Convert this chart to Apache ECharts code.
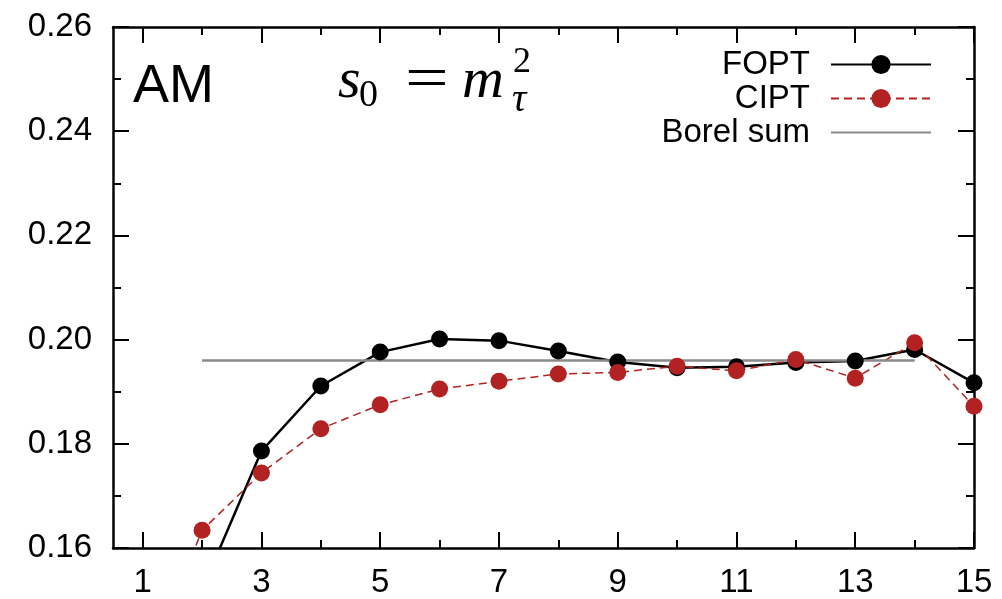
<!DOCTYPE html>
<html>
<head>
<meta charset="utf-8">
<script src="https://cdn.jsdelivr.net/npm/echarts@6/dist/echarts.min.js"></script>
<style>
html,body{margin:0;padding:0;background:#fff;}
#chart{width:1002px;height:599px;}
</style>
</head>
<body>
<div id="chart"></div>
<script>
// ---- data ----
const xValues = [1, 2, 3, 4, 5, 6, 7, 8, 9, 10, 11, 12, 13, 14, 15];
const foptValues = [null, 0.152, 0.1786, 0.1911, 0.1976, 0.2001, 0.1998, 0.1978, 0.1957, 0.1946, 0.1948, 0.1956, 0.1959, 0.1981, 0.1917];
const ciptValues = [0.135, 0.1634, 0.1744, 0.1829, 0.1875, 0.1905, 0.1920, 0.1934, 0.1937, 0.1949, 0.1940, 0.1962, 0.1926, 0.1994, 0.1872];
const borelX = [2, 14];
const borelY = [0.196, 0.196];
const xMajorTicks = [1, 3, 5, 7, 9, 11, 13, 15];
const xMinorTicks = [2, 4, 6, 8, 10, 12, 14];
const seriesNames = ['FOPT', 'CIPT', 'Borel sum'];

const pairs = (xs, ys) => xs.map((x, i) => [x, ys[i]]);

const FONT = 'Liberation Sans, Arial, Helvetica, sans-serif';
const SERIF = 'Liberation Serif, DejaVu Serif, serif';
const axisLineStyle = { color: '#000', width: 2.5 };

function xAxisDef(position, ticks, len, showLine, showLabel) {
  return {
    type: 'value', position: position, min: 0.5, max: 15,
    axisLine: { show: showLine, onZero: false, lineStyle: axisLineStyle },
    axisTick: { show: true, inside: true, length: len, customValues: ticks, lineStyle: { color: '#000', width: 2 } },
    axisLabel: showLabel ? { show: true, customValues: xMajorTicks, color: '#000', fontSize: 33, fontFamily: FONT, margin: 18 } : { show: false },
    splitLine: { show: false }
  };
}
function yAxisDef(position, showLabel) {
  return {
    type: 'value', position: position, min: 0.16, max: 0.26, interval: 0.02,
    axisLine: { show: true, onZero: false, lineStyle: axisLineStyle },
    axisTick: { show: true, inside: true, length: 16, lineStyle: { color: '#000', width: 2 } },
    minorTick: { show: true, splitNumber: 2, length: 8, lineStyle: { color: '#000', width: 2 } },
    axisLabel: showLabel ? { show: true, color: '#000', fontSize: 33, fontFamily: FONT, margin: 21, formatter: v => v.toFixed(2) } : { show: false },
    splitLine: { show: false }, minorSplitLine: { show: false }
  };
}

const chart = echarts.init(document.getElementById('chart'), null, { renderer: 'canvas' });
chart.setOption({
  animation: false,
  backgroundColor: '#fff',
  grid: { left: 113, top: 27, right: 28, bottom: 51, containLabel: false },
  xAxis: [
    xAxisDef('bottom', xMajorTicks, 16, true, true),
    xAxisDef('bottom', xMinorTicks, 8, false, false),
    xAxisDef('top', xMajorTicks, 16, true, false),
    xAxisDef('top', xMinorTicks, 8, false, false)
  ],
  yAxis: [yAxisDef('left', true), yAxisDef('right', false)],
  legend: {
    orient: 'vertical', right: 65, top: 43, align: 'right',
    itemWidth: 100, itemHeight: 24, itemGap: 1,
    data: [
      { name: seriesNames[0] },
      { name: seriesNames[1] },
      { name: seriesNames[2], itemStyle: { opacity: 0 } }
    ],
    textStyle: { fontSize: 33, fontFamily: FONT, color: '#000', padding: [0, 16, 0, 0] }
  },
  series: [
    {
      name: seriesNames[0], type: 'line', xAxisIndex: 0, yAxisIndex: 0,
      data: pairs(xValues, foptValues), clip: true,
      symbol: 'circle', symbolSize: 17,
      lineStyle: { color: '#000', width: 2.5 }, itemStyle: { color: '#000' }
    },
    {
      name: seriesNames[1], type: 'line', xAxisIndex: 0, yAxisIndex: 0,
      data: pairs(xValues, ciptValues), clip: true,
      symbol: 'circle', symbolSize: 17,
      lineStyle: { color: '#b22222', width: 1.5, type: [8, 5] }, itemStyle: { color: '#b22222' }
    },
    {
      name: seriesNames[2], type: 'line', xAxisIndex: 0, yAxisIndex: 0,
      data: pairs(borelX, borelY), clip: true,
      symbol: 'none',
      lineStyle: { color: '#8a8a8a', width: 2.5 }, itemStyle: { color: '#8a8a8a' }
    }
  ],
  graphic: [
    { type: 'text', left: 133, top: 60, style: { text: 'AM', font: '54px ' + FONT, fill: '#000' } },
    { type: 'text', x: 338, y: 82, style: { text: 's', font: 'italic 58px ' + SERIF, fill: '#000', verticalAlign: 'middle', align: 'left' } },
    { type: 'text', x: 359, y: 96, style: { text: '0', font: '38px ' + SERIF, fill: '#000', verticalAlign: 'middle', align: 'left' } },
    { type: 'text', x: 405, y: 82, scaleX: 1.25, style: { text: '=', font: '62px ' + SERIF, fill: '#000', verticalAlign: 'middle', align: 'left' } },
    { type: 'text', x: 462, y: 82, style: { text: 'm', font: 'italic 58px ' + SERIF, fill: '#000', verticalAlign: 'middle', align: 'left' } },
    { type: 'text', x: 513, y: 63, style: { text: '2', font: '36px ' + SERIF, fill: '#000', verticalAlign: 'middle', align: 'left' } },
    { type: 'text', x: 512, y: 100, style: { text: 'τ', font: 'italic 40px ' + SERIF, fill: '#000', verticalAlign: 'middle', align: 'left' } }
  ]
});
</script>
</body>
</html>
